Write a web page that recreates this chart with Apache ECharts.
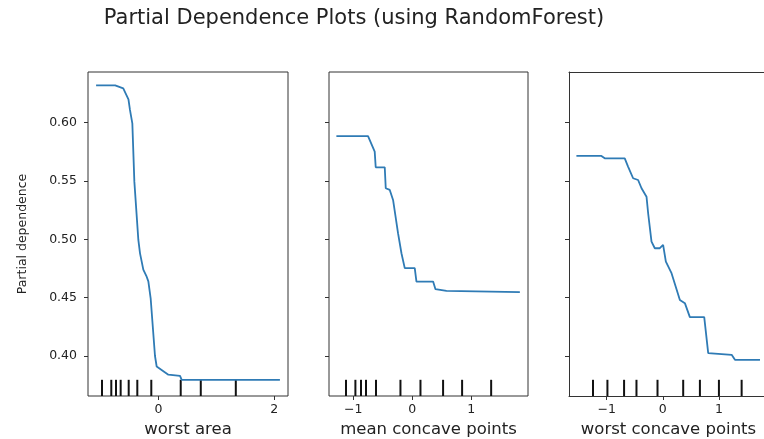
<!DOCTYPE html>
<html>
<head>
<meta charset="utf-8">
<script src="https://cdn.jsdelivr.net/npm/echarts@6/dist/echarts.min.js"></script>
<style>html,body{margin:0;padding:0;background:#fff}#c{width:764px;height:439px}</style>
</head>
<body>
<div id="c"></div>
<script>
// ---- data ----
const titleText = 'Partial Dependence Plots (using RandomForest)';
const featureNames = ['worst area', 'mean concave points', 'worst concave points'];
const yTicks = [0.40, 0.45, 0.50, 0.55, 0.60];
const xTicks1 = [0, 2];
const xTicks2 = [-1, 0, 1];
const xTicks3 = [-1, 0, 1];

const pdWorstArea = [
  [-1.08,0.632],[-0.75,0.632],[-0.61,0.6295],[-0.52,0.62],[-0.494,0.611],[-0.453,0.5995],
  [-0.418,0.5495],[-0.349,0.4995],[-0.32,0.488],[-0.263,0.474],[-0.205,0.468],[-0.176,0.464],
  [-0.136,0.4495],[-0.061,0.40],[-0.032,0.391],[0.084,0.387],[0.17,0.384],[0.372,0.383],
  [0.401,0.3795],[2.10,0.3795]
];
const pdMeanConcave = [
  [-1.285,0.5886],[-0.749,0.5886],[-0.636,0.5752],[-0.619,0.5618],[-0.466,0.5618],[-0.449,0.5438],
  [-0.381,0.5424],[-0.325,0.5338],[-0.241,0.5053],[-0.183,0.4881],[-0.127,0.4753],[0.042,0.4753],
  [0.071,0.4638],[0.353,0.4638],[0.393,0.4573],[0.580,0.4558],[1.822,0.4547]
];
const pdWorstConcave = [
  [-1.541,0.5715],[-1.095,0.5715],[-1.036,0.5695],[-0.679,0.5695],[-0.620,0.5624],[-0.530,0.5524],
  [-0.441,0.5509],[-0.380,0.5438],[-0.291,0.5366],[-0.262,0.5224],[-0.202,0.4981],[-0.143,0.4924],
  [-0.054,0.4924],[0.005,0.4952],[0.054,0.4809],[0.155,0.4710],[0.304,0.4481],[0.393,0.4453],
  [0.482,0.4333],[0.738,0.4333],[0.809,0.4024],[1.227,0.4010],[1.286,0.3967],[1.732,0.3967]
];
const decilesWorstArea = [-0.978,-0.817,-0.736,-0.655,-0.516,-0.367,-0.125,0.384,0.731,1.337];
const decilesMeanConcave = [-1.122,-0.963,-0.868,-0.783,-0.614,-0.200,0.139,0.522,0.844,1.336];
const decilesWorstConcave = [-1.245,-0.988,-0.691,-0.470,-0.095,0.363,0.661,1.0,1.405];

const yMin = 0.3657, yMax = 0.6435;
const xRanges = [[-1.22, 2.24], [-1.41, 1.96], [-1.673, 1.875]];

// ---- chart ----
const FONT = 'DejaVu Sans';
const TXT = '#222';
const AX = '#333';
const LINE = '#2f7bb5';
const fmtMinus = v => (v < 0 ? '\u2212' + Math.abs(v) : String(v));

const grids = [
  {left: 88, top: 72, width: 200, height: 324, show: true},
  {left: 329, top: 72, width: 199, height: 324, show: true},
  {left: 569, top: 72, width: 199, height: 324, show: false}
].map(g => Object.assign(g, {borderColor: AX, borderWidth: 1, backgroundColor: 'transparent',
  containLabel: false, outerBoundsMode: 'none'}));

const xTickSets = [xTicks1, xTicks2, xTicks3];
const xAxes = xTickSets.map((ticks, i) => ({
  type: 'value', gridIndex: i, min: xRanges[i][0], max: xRanges[i][1], position: 'bottom',
  name: featureNames[i], nameLocation: 'middle', nameGap: 23,
  nameTextStyle: {fontFamily: FONT, fontSize: 16.5, color: TXT},
  axisLine: {show: i === 2, onZero: false, lineStyle: {color: AX, width: 1}},
  axisTick: {show: true, inside: false, length: 4, lineStyle: {color: AX, width: 1}, customValues: ticks},
  axisLabel: {show: true, margin: 7, fontFamily: FONT, fontSize: 12.5, color: TXT, customValues: ticks, formatter: fmtMinus},
  splitLine: {show: false}
}));
// top border for the third (cropped) panel
xAxes.push({
  type: 'value', gridIndex: 2, min: xRanges[2][0], max: xRanges[2][1], position: 'top',
  axisLine: {show: true, onZero: false, lineStyle: {color: AX, width: 1}},
  axisTick: {show: false}, axisLabel: {show: false}, splitLine: {show: false}
});

const yAxes = [0, 1, 2].map(i => ({
  type: 'value', gridIndex: i, min: yMin, max: yMax, position: 'left',
  name: i === 0 ? 'Partial dependence' : '', nameLocation: 'middle', nameGap: 59,
  nameTextStyle: {fontFamily: FONT, fontSize: 12.5, color: TXT},
  axisLine: {show: i === 2, onZero: false, lineStyle: {color: AX, width: 1}},
  axisTick: {show: true, inside: false, length: 4, lineStyle: {color: AX, width: 1}, customValues: yTicks},
  axisLabel: {show: i === 0, margin: 11, fontFamily: FONT, fontSize: 12.5, color: TXT, customValues: yTicks,
    formatter: v => v.toFixed(2)},
  splitLine: {show: false}
}));

const curves = [pdWorstArea, pdMeanConcave, pdWorstConcave];
const deciles = [decilesWorstArea, decilesMeanConcave, decilesWorstConcave];

const series = [];
curves.forEach((d, i) => {
  series.push({
    type: 'line', xAxisIndex: i, yAxisIndex: i, data: d, showSymbol: false, symbol: 'none',
    lineStyle: {color: LINE, width: 1.8}, animation: false, silent: true
  });
  series.push({
    type: 'custom', xAxisIndex: i, yAxisIndex: i, animation: false, silent: true,
    data: deciles[i].map(x => [x, yMin]),
    encode: {x: 0, y: 1},
    renderItem: (params, api) => {
      const x = api.value(0);
      const p0 = api.coord([x, yMin]);
      const p1 = api.coord([x, yMin + 0.05 * (yMax - yMin)]);
      return {type: 'line', shape: {x1: p0[0], y1: p0[1], x2: p1[0], y2: p1[1]},
        style: {stroke: '#111', lineWidth: 2}};
    }
  });
});

const chart = echarts.init(document.getElementById('c'), null, {renderer: 'canvas'});
chart.setOption({
  animation: false,
  backgroundColor: '#fff',
  title: {text: titleText, left: 349, top: 3, textAlign: 'center',
    textStyle: {fontFamily: FONT, fontSize: 21, fontWeight: 'normal', color: TXT}},
  grid: grids,
  xAxis: xAxes,
  yAxis: yAxes,
  series: series
});
</script>
</body>
</html>
